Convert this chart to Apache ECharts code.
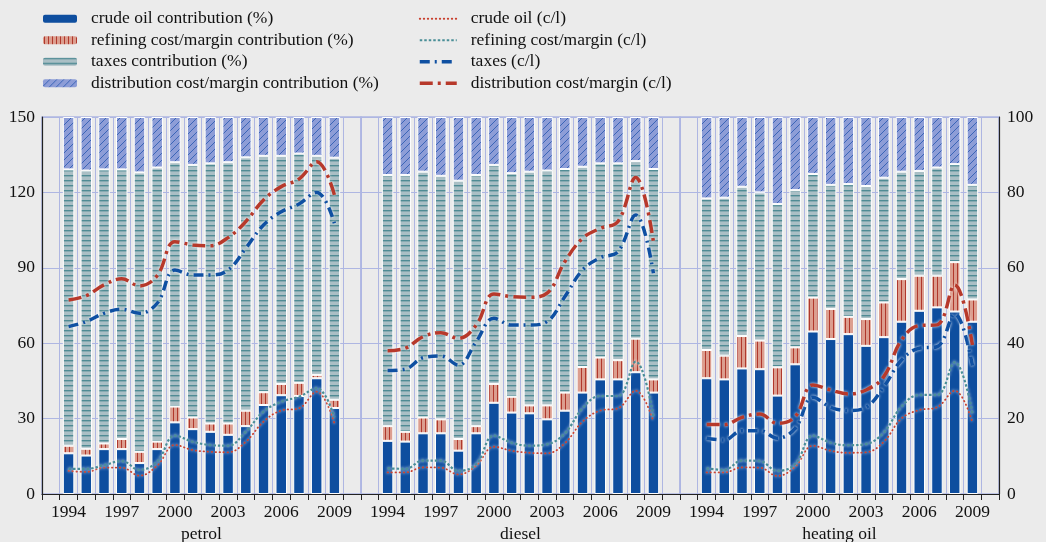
<!DOCTYPE html>
<html>
<head>
<meta charset="utf-8">
<script src="https://cdn.jsdelivr.net/npm/echarts@6/dist/echarts.min.js"></script>
<style>
  html, body { margin: 0; padding: 0; background: #ebebeb; }
  #chart { width: 1046px; height: 542px; }
</style>
</head>
<body>
<div id="chart"></div>
<script>
// Years shown on each of the three panels
const years = ['1994','1995','1996','1997','1998','1999','2000','2001','2002','2003','2004','2005','2006','2007','2008','2009'];
const labelYears = ['1994','1997','2000','2003','2006','2009'];
const panelNames = ['petrol', 'diesel', 'heating oil'];

// Price structure, contributions in % (stacked bars, right axis)
const petrolCrudePct    = [10.8, 10.2, 11.9, 11.9, 8.2, 11.9, 19.0, 17.2, 16.5, 15.7, 18.0, 23.6, 26.2, 26.0, 30.7, 22.8];
const petrolRefiningPct = [2.0, 1.8, 1.5, 2.7, 3.0, 2.0, 4.2, 3.1, 2.2, 3.0, 4.1, 3.4, 3.0, 3.5, 0.9, 2.2];
const petrolTaxesPct    = [73.3, 73.8, 72.7, 71.5, 74.1, 72.7, 64.8, 67.0, 69.0, 69.3, 67.2, 62.7, 60.5, 60.8, 58.1, 64.2];
const petrolDistPct     = [13.9, 14.2, 13.9, 13.9, 14.7, 13.4, 12.0, 12.7, 12.3, 12.0, 10.7, 10.3, 10.3, 9.7, 10.3, 10.8];

const dieselCrudePct    = [14.1, 13.9, 16.1, 16.1, 11.5, 16.1, 24.2, 21.6, 21.4, 19.8, 22.1, 26.9, 30.4, 30.4, 32.3, 26.9];
const dieselRefiningPct = [3.9, 2.6, 4.2, 3.7, 3.1, 1.9, 5.0, 4.2, 2.1, 3.7, 4.8, 6.8, 5.8, 5.1, 8.9, 3.5];
const dieselTaxesPct    = [66.6, 68.1, 65.2, 64.6, 68.5, 66.6, 58.1, 59.3, 62.0, 62.3, 59.3, 53.1, 51.5, 52.2, 47.1, 55.8];
const dieselDistPct     = [15.4, 15.4, 14.5, 15.6, 16.9, 15.4, 12.7, 14.9, 14.5, 14.2, 13.8, 13.2, 12.3, 12.3, 11.7, 13.8];

const heatCrudePct      = [30.7, 30.4, 33.3, 33.1, 26.1, 34.4, 43.1, 41.1, 42.4, 39.3, 41.6, 45.7, 48.6, 49.5, 48.4, 45.7];
const heatRefiningPct   = [7.5, 6.3, 8.6, 7.6, 7.5, 4.5, 9.0, 8.0, 4.6, 7.1, 9.2, 11.3, 9.3, 8.4, 13.1, 5.9];
const heatTaxesPct      = [40.2, 41.9, 39.6, 39.3, 43.3, 41.7, 32.8, 32.9, 35.2, 35.3, 33.1, 28.5, 27.8, 28.7, 26.0, 30.4];
const heatDistPct       = [21.6, 21.4, 18.5, 20.0, 23.1, 19.4, 15.1, 18.0, 17.8, 18.3, 16.1, 14.5, 14.3, 13.4, 12.5, 18.0];

// Cumulative prices in cents per litre (lines, left axis)
const petrolCrudeCl     = [9.2, 8.8, 10.5, 10.5, 7.3, 11.3, 19.5, 17.5, 16.8, 16.6, 20.8, 28.8, 33.2, 34.1, 40.7, 28.1];
const petrolRefiningCl  = [10.0, 10.0, 11.5, 13.1, 9.6, 12.9, 23.2, 20.8, 19.5, 19.2, 24.8, 32.8, 36.7, 38.7, 42.1, 30.5];
const petrolTaxesCl     = [66.6, 68.6, 71.9, 73.5, 71.9, 75.9, 89.1, 87.1, 87.1, 89.1, 97.8, 107.0, 112.3, 115.4, 120.0, 107.7];
const petrolDistCl      = [77.2, 78.9, 83.2, 85.6, 82.8, 86.9, 100.4, 99.1, 98.8, 102.0, 108.4, 117.0, 122.3, 125.3, 132.2, 119.0];

const dieselCrudeCl     = [8.6, 8.6, 10.6, 10.5, 7.8, 11.3, 18.8, 17.2, 16.4, 16.2, 20.2, 28.8, 33.2, 34.1, 41.1, 28.8];
const dieselRefiningCl  = [10.2, 10.0, 13.3, 13.3, 9.2, 11.9, 23.2, 20.4, 19.2, 19.8, 24.1, 34.1, 39.0, 39.0, 52.7, 30.8];
const dieselTaxesCl     = [49.1, 49.7, 54.2, 54.9, 51.3, 60.6, 69.9, 67.2, 67.2, 68.6, 78.5, 89.1, 94.0, 96.4, 111.0, 87.8];
const dieselDistCl      = [57.0, 58.0, 62.6, 64.2, 61.9, 67.2, 79.6, 78.5, 78.3, 79.9, 92.4, 101.7, 105.7, 108.4, 125.9, 100.4];

const heatCrudeCl       = [8.6, 8.6, 10.6, 10.5, 7.2, 10.9, 19.2, 17.2, 16.4, 16.6, 20.8, 30.1, 33.4, 34.5, 41.1, 28.5];
const heatRefiningCl    = [10.2, 9.6, 13.3, 13.1, 9.2, 11.9, 23.2, 20.4, 19.4, 19.9, 24.5, 34.8, 39.4, 39.4, 52.4, 32.1];
const heatTaxesCl       = [22.2, 21.5, 25.2, 25.2, 22.2, 26.1, 38.5, 34.5, 33.2, 34.5, 42.7, 53.3, 58.0, 58.6, 71.6, 51.1];
const heatDistCl        = [27.7, 27.6, 30.5, 31.8, 28.1, 30.8, 43.4, 41.4, 39.8, 41.4, 46.7, 61.3, 67.0, 67.3, 83.2, 59.3];

const barNames  = ['crude oil contribution (%)', 'refining cost/margin contribution (%)', 'taxes contribution (%)', 'distribution cost/margin contribution (%)'];
const lineNames = ['crude oil (c/l)', 'refining cost/margin (c/l)', 'taxes (c/l)', 'distribution cost/margin (c/l)'];

const panels = [
  { bars: [petrolCrudePct, petrolRefiningPct, petrolTaxesPct, petrolDistPct], lines: [petrolCrudeCl, petrolRefiningCl, petrolTaxesCl, petrolDistCl] },
  { bars: [dieselCrudePct, dieselRefiningPct, dieselTaxesPct, dieselDistPct], lines: [dieselCrudeCl, dieselRefiningCl, dieselTaxesCl, dieselDistCl] },
  { bars: [heatCrudePct, heatRefiningPct, heatTaxesPct, heatDistPct], lines: [heatCrudeCl, heatRefiningCl, heatTaxesCl, heatDistCl] }
];

// ---- styling ----
const FONT = 'Liberation Serif';
const TEXT = '#111';
const LAVENDER = '#aeb6e2';
const BG = '#ebebeb';

// Each panel leaves one empty slot before 1994 and after 2009
const categories = [''].concat(years, [' ']);
const pad = arr => [null].concat(arr, [null]);

function pattern(w, h, bg, draw) {
  const c = document.createElement('canvas');
  c.width = w; c.height = h;
  const g = c.getContext('2d');
  g.fillStyle = bg; g.fillRect(0, 0, w, h);
  draw(g);
  return { image: c, repeat: 'repeat' };
}

const barFills = [
  '#0e4e9f',
  pattern(4, 4, '#dc9e8f', g => { g.fillStyle = '#b0382c'; g.fillRect(1, 0, 1, 4); }),
  pattern(4, 5, '#aabfc5', g => { g.fillStyle = '#4f8b94'; g.fillRect(0, 0, 4, 1); g.fillStyle = 'rgba(79,139,148,0.4)'; g.fillRect(0, 1, 4, 1); }),
  pattern(7, 7, '#8d9dd7', g => {
    g.fillStyle = 'rgba(45,92,177,0.85)';
    for (let i = 0; i < 7; i++) g.fillRect(i, 6 - i, 1, 1);
  })
];

const halo = { shadowColor: 'rgba(255,255,255,0.95)', shadowBlur: 3 };
const lineStyles = [
  Object.assign({ color: '#c9412f', width: 1.8, type: [0.5, 3.5], cap: 'round' }, halo),
  Object.assign({ color: '#4a8e97', width: 2.2, type: [2.5, 2] }, halo),
  Object.assign({ color: '#0f50a2', width: 3.5, type: [10, 5, 2, 5] }, halo),
  Object.assign({ color: '#b7392b', width: 3.5, type: [13, 5, 3, 5] }, halo)
];

const gridLefts = [42, 361, 680];
const gridW = 319;
const grids = gridLefts.map(l => ({
  left: l, width: gridW, top: 117, height: 377,
  outerBoundsMode: 'none', containLabel: false,
  show: true, borderColor: LAVENDER, borderWidth: 1.5, backgroundColor: 'transparent'
}));

const xAxes = panelNames.map((n, i) => ({
  type: 'category', gridIndex: i, data: categories, boundaryGap: true,
  name: n, nameLocation: 'middle', nameGap: 28,
  nameTextStyle: { fontFamily: FONT, fontSize: 17.5, color: TEXT },
  axisLine: { lineStyle: { color: '#222', width: 1.2 } },
  axisTick: { show: true, interval: 0, length: 6, lineStyle: { color: '#222' } },
  axisLabel: {
    interval: (idx, v) => labelYears.indexOf(v) >= 0,
    fontFamily: FONT, fontSize: 17.5, color: TEXT, margin: 9
  },
  splitLine: { show: true, interval: 0, lineStyle: { color: LAVENDER, width: 1 } }
}));

const clAxis = (i, visible) => ({
  type: 'value', gridIndex: i, min: 0, max: 150, interval: 30, position: 'left',
  axisLine: { show: visible, lineStyle: { color: '#222', width: 1.2 } },
  axisTick: { show: false },
  axisLabel: { show: visible, fontFamily: FONT, fontSize: 17.5, color: TEXT, margin: 7 },
  splitLine: { show: true, lineStyle: { color: LAVENDER, width: 1 } }
});
const pctAxis = (i, visible) => ({
  type: 'value', gridIndex: i, min: 0, max: 100, interval: 20, position: 'right',
  show: visible,
  axisLine: { show: visible, lineStyle: { color: '#222', width: 1.2 } },
  axisTick: { show: false },
  axisLabel: { show: visible, fontFamily: FONT, fontSize: 17.5, color: TEXT, margin: 8 },
  splitLine: { show: false }
});
const yAxes = [clAxis(0, true), clAxis(1, false), clAxis(2, false), pctAxis(0, false), pctAxis(1, false), pctAxis(2, true)];

const series = [];
panels.forEach((p, i) => {
  p.bars.forEach((vals, k) => {
    series.push({
      type: 'bar', name: barNames[k], xAxisIndex: i, yAxisIndex: 3 + i, stack: 'share' + i,
      data: pad(vals), barWidth: 11.5, z: 2,
      itemStyle: { color: barFills[k], borderColor: '#ffffff', borderWidth: 1 }
    });
  });
  p.lines.forEach((vals, k) => {
    series.push({
      type: 'line', name: lineNames[k], xAxisIndex: i, yAxisIndex: i,
      data: pad(vals), smooth: 0.4, symbol: 'none', showSymbol: false, z: 4 + k,
      itemStyle: { color: lineStyles[k].color },
      lineStyle: lineStyles[k]
    });
  });
});

const legendText = { fontFamily: FONT, fontSize: 17.5, color: TEXT, lineHeight: 21.5, padding: [0, 0, 0, 9] };
// Legend line samples keep each series' own stroke width and dash pattern
const lineLegendData = lineNames.map((n, k) => ({
  name: n,
  lineStyle: { width: lineStyles[k].width, type: lineStyles[k].type, cap: lineStyles[k].cap || 'butt',
               color: lineStyles[k].color, shadowBlur: 0 }
}));

const option = {
  backgroundColor: BG,
  animation: false,
  grid: grids,
  xAxis: xAxes,
  yAxis: yAxes,
  legend: [
    { data: barNames, orient: 'vertical', left: 38, top: 3, itemWidth: 34, itemHeight: 8, itemGap: 0,
      selectedMode: false, textStyle: legendText, itemStyle: { borderWidth: 0 } },
    { data: lineLegendData, orient: 'vertical', left: 413, top: 3, itemWidth: 37, itemHeight: 8, itemGap: 0,
      selectedMode: false, textStyle: legendText,
      itemStyle: { opacity: 0 } }
  ],
  series: series
};

const chart = echarts.init(document.getElementById('chart'), null, { renderer: 'canvas' });
chart.setOption(option);
</script>
</body>
</html>
